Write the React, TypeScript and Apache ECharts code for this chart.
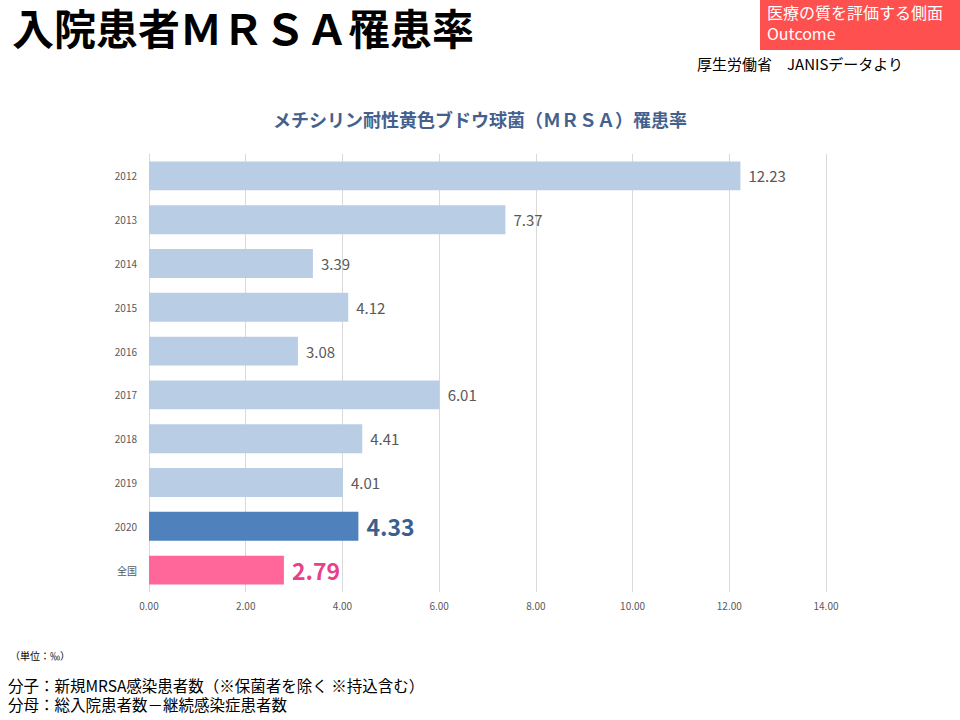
import React, { useEffect, useRef } from "react";
import * as echarts from "echarts";

const categories = ["2012", "2013", "2014", "2015", "2016", "2017", "2018", "2019", "2020", "全国"];
const values = [12.23, 7.37, 3.39, 4.12, 3.08, 6.01, 4.41, 4.01, 4.33, 2.79];
const xTicks = [0, 2, 4, 6, 8, 10, 12, 14];

const JP = '"Noto Sans CJK JP", "Noto Sans", sans-serif';

export default function App() {
  const ref = useRef<HTMLDivElement>(null);
  useEffect(() => {
    if (!ref.current) return;
    const chart = echarts.init(ref.current, undefined, { renderer: "svg" });
    const data = values.map((v, i) => {
      const cat = categories[i];
      if (cat === "2020") {
        return {
          value: v,
          itemStyle: { color: "#4f81bd" },
          label: { fontSize: 23, fontWeight: "bold", color: "#3a5f8f" },
        };
      }
      if (cat === "全国") {
        return {
          value: v,
          itemStyle: { color: "#ff6699" },
          label: { fontSize: 23, fontWeight: "bold", color: "#e8408a" },
        };
      }
      return { value: v };
    });
    chart.setOption({
      animation: false,
      backgroundColor: "#ffffff",
      grid: { left: 149, right: 134, top: 154, bottom: 128, containLabel: false },
      xAxis: {
        type: "value",
        min: xTicks[0],
        max: xTicks[xTicks.length - 1],
        interval: 2,
        axisLine: { show: false },
        axisTick: { show: false },
        splitLine: { show: true, lineStyle: { color: "#d9d9d9", width: 1 } },
        axisLabel: {
          formatter: (v: number) => v.toFixed(2),
          fontSize: 10,
          color: "#595959",
          margin: 8,
          fontFamily: JP,
        },
      },
      yAxis: {
        type: "category",
        data: categories,
        inverse: true,
        axisLine: { show: true, lineStyle: { color: "#d9d9d9" } },
        axisTick: { show: false },
        axisLabel: { fontSize: 10, color: "#595959", margin: 12, fontFamily: JP },
      },
      series: [
        {
          type: "bar",
          data,
          barCategoryGap: "34%",
          itemStyle: { color: "#b9cde5" },
          label: {
            show: true,
            position: "right",
            distance: 8,
            fontSize: 15,
            color: "#595959",
            fontFamily: JP,
            formatter: (p: any) => Number(p.value).toFixed(2),
          },
        },
      ],
      graphic: [
        {
          type: "text",
          x: 12,
          y: 5,
          style: {
            text: "入院患者ＭＲＳＡ罹患率",
            fontSize: 42,
            fontWeight: "bold",
            fill: "#000000",
            fontFamily: JP,
          },
        },
        {
          type: "rect",
          shape: { x: 760, y: 0, width: 200, height: 50 },
          style: { fill: "#ff5050" },
        },
        {
          type: "text",
          x: 767,
          y: 4,
          style: {
            text: "医療の質を評価する側面",
            fontSize: 16,
            fill: "#ffffff",
            fontFamily: JP,
          },
        },
        {
          type: "text",
          x: 767,
          y: 25,
          style: {
            text: "Outcome",
            fontSize: 16,
            fill: "#ffffff",
            fontFamily: JP,
          },
        },
        {
          type: "text",
          x: 697,
          y: 56,
          style: {
            text: "厚生労働省　JANISデータより",
            fontSize: 15,
            fill: "#000000",
            fontFamily: JP,
          },
        },
        {
          type: "text",
          x: 480,
          y: 119,
          style: {
            text: "メチシリン耐性黄色ブドウ球菌（ＭＲＳＡ）罹患率",
            fontSize: 18,
            fontWeight: "bold",
            fill: "#44608c",
            fontFamily: JP,
            align: "center",
            verticalAlign: "middle",
          },
        },
        {
          type: "text",
          x: 10,
          y: 650,
          style: {
            text: "（単位：‰）",
            fontSize: 10,
            fill: "#000000",
            fontFamily: JP,
          },
        },
        {
          type: "text",
          x: 8,
          y: 677,
          style: {
            text: "分子：新規MRSA感染患者数（※保菌者を除く ※持込含む）",
            fontSize: 15.5,
            fill: "#000000",
            fontFamily: JP,
          },
        },
        {
          type: "text",
          x: 8,
          y: 696,
          style: {
            text: "分母：総入院患者数－継続感染症患者数",
            fontSize: 15.5,
            fill: "#000000",
            fontFamily: JP,
          },
        },
      ],
    });
    return () => chart.dispose();
  }, []);
  return (
    <div
      ref={ref}
      style={{ position: "absolute", left: 0, top: 0, width: 960, height: 720 }}
    />
  );
}
